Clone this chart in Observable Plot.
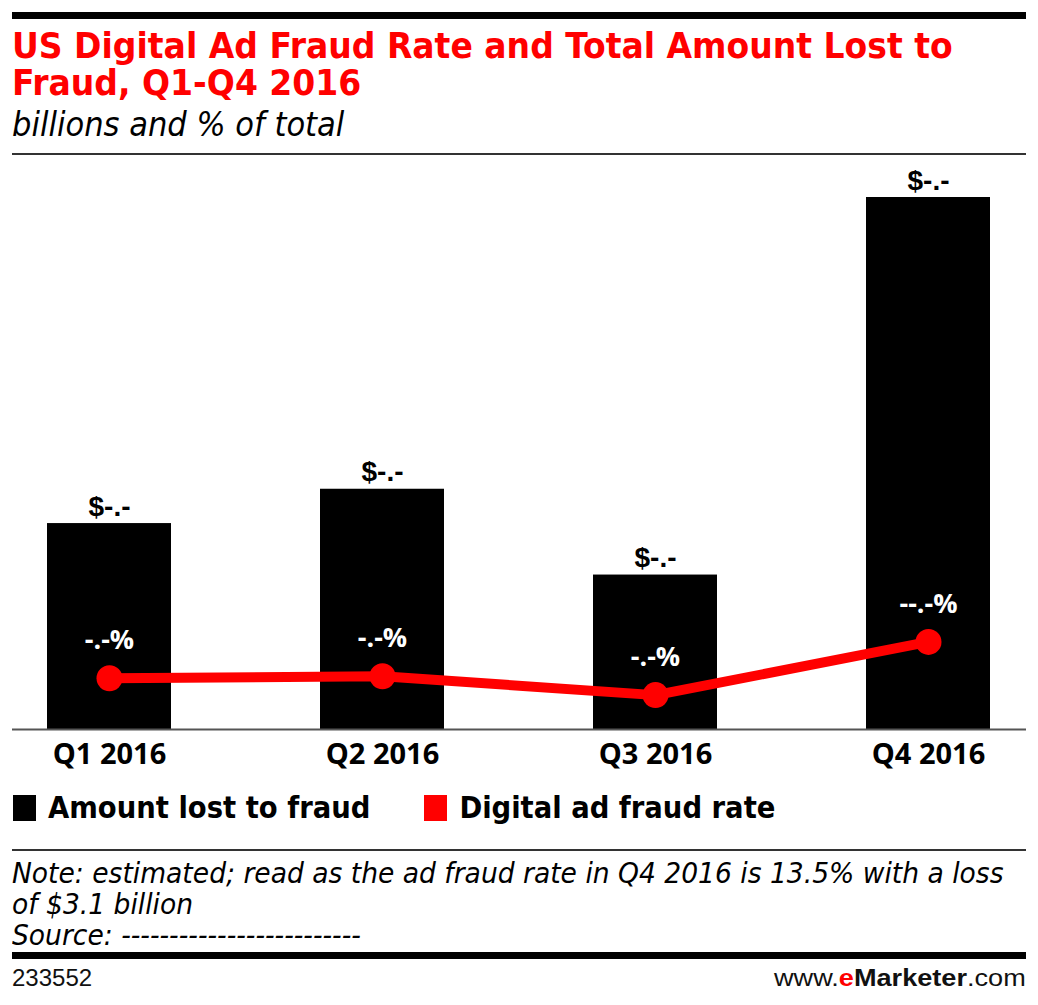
<!DOCTYPE html>
<html>
<head>
<meta charset="utf-8">
<script src="https://cdn.jsdelivr.net/npm/d3@7"></script>
<script src="https://cdn.jsdelivr.net/npm/@observablehq/plot@0.6"></script>
<style>
  html, body { margin: 0; padding: 0; background: #fff; }
  body { position: relative; width: 1038px; height: 1005px; overflow: hidden; }
  .abs { position: absolute; white-space: nowrap; }
  .cond { font-family: "DejaVu Sans Condensed", "Liberation Sans Narrow", sans-serif; font-stretch: condensed; }
  .helv { font-family: "Liberation Sans", Arial, sans-serif; }
  #topbar { left: 12px; top: 12px; width: 1014px; height: 7px; background: #000; }
  .tline { left: 12px; font-size: 36px; line-height: 36px; font-weight: bold; color: #ff0000; transform: scaleX(1.02); transform-origin: 0 0; }
  #title1 { top: 28px; }
  #title2 { top: 65px; }
  #subtitle { left: 12px; top: 104px; font-size: 34px; font-style: italic; color: #000; }
  #rule1 { left: 12px; top: 153px; width: 1014px; height: 2px; background: #333; }
  #chart { left: 0; top: 160px; }
  #legend { left: 13px; top: 790px; font-size: 30.5px; font-weight: bold; color: #000; }
  .sw { display: inline-block; width: 23px; height: 26px; vertical-align: -3px; margin-right: 12px; }
  .item { display: inline-block; }
  #rule2 { left: 12px; top: 849px; width: 1014px; height: 2px; background: #333; }
  #note { left: 12px; top: 858px; font-size: 29px; line-height: 31px; font-style: italic; color: #000; transform: scaleX(1.018); transform-origin: 0 0; }
  #rule3 { left: 12px; top: 952px; width: 1014px; height: 7px; background: #000; }
  #id { left: 12px; top: 964px; font-size: 24px; color: #111; }
  #brand { right: 12px; top: 964px; font-size: 24px; color: #111; transform: scaleX(1.13); transform-origin: 100% 0; }
</style>
</head>
<body>
<div id="topbar" class="abs"></div>
<div id="title1" class="abs cond tline">US Digital Ad Fraud Rate and Total Amount Lost to</div>
<div id="title2" class="abs cond tline">Fraud, Q1-Q4 2016</div>
<div id="subtitle" class="abs cond">billions and % of total</div>
<div id="rule1" class="abs"></div>
<div id="chart" class="abs"></div>
<div id="legend" class="abs cond">
  <span class="item"><span class="sw" style="background:#000"></span>Amount lost to fraud</span><span class="item" style="margin-left:54px"><span class="sw" style="background:#ff0000"></span>Digital ad fraud rate</span>
</div>
<div id="rule2" class="abs"></div>
<div id="note" class="abs cond">Note: estimated; read as the ad fraud rate in Q4 2016 is 13.5% with a loss<br>of $3.1 billion<br>Source: -------------------------</div>
<div id="rule3" class="abs"></div>
<div id="id" class="abs helv">233552</div>
<div id="brand" class="abs helv">www.<b style="color:#ff0000">e</b><b>Marketer</b>.com</div>
<script>
// Data
const quarters = ["Q1 2016", "Q2 2016", "Q3 2016", "Q4 2016"];
const amountLost = [1.2, 1.4, 0.9, 3.1];          // billions of $
const fraudRate = [7.9, 8.2, 5.3, 13.5];           // % of total
const amountLabels = ["$-.-", "$-.-", "$-.-", "$-.-"];
const rateLabels = ["-.-%", "-.-%", "-.-%", "--.-%"];

// secondary scale: rate (%) expressed in billions-axis units
const rateToAxis = 0.0378;

const data = quarters.map((q, i) => ({
  quarter: q,
  amount: amountLost[i],
  rate: fraudRate[i],
  amountLabel: amountLabels[i],
  rateLabel: rateLabels[i]
}));

const boldFont = "'Open Sans', 'DejaVu Sans', sans-serif";
const helvFont = "'Liberation Sans', Arial, sans-serif";

const chart = Plot.plot({
  width: 1038,
  height: 630,
  marginLeft: 12,
  marginRight: 12,
  marginTop: 37,
  marginBottom: 61,
  style: { fontFamily: boldFont, background: "transparent", overflow: "visible" },
  x: { type: "band", domain: quarters, paddingInner: 0.544, paddingOuter: 0.124, label: null },
  y: { domain: [0, 3.1], axis: null },
  marks: [
    Plot.barY(data, { x: "quarter", y: "amount", fill: "#000" }),
    Plot.ruleY([0], { stroke: "#555", strokeWidth: 2 }),
    Plot.text(data, { x: "quarter", y: "amount", text: "amountLabel", lineAnchor: "bottom", dy: -8, fontSize: 28, fontWeight: "bold", fontFamily: helvFont, fill: "#000" }),
    Plot.line(data, { x: "quarter", y: d => d.rate * rateToAxis, stroke: "#ff0000", strokeWidth: 10 }),
    Plot.dot(data, { x: "quarter", y: d => d.rate * rateToAxis, r: 13, fill: "#ff0000", stroke: "none" }),
    Plot.text(data, { x: "quarter", y: d => d.rate * rateToAxis, text: "rateLabel", dy: -38, fontSize: 27, fontWeight: "bold", fill: "#fff" }),
    Plot.axisX({ tickSize: 0, tickPadding: 14, fontSize: 29, fontWeight: "bold", fill: "#000", label: null })
  ]
});
document.getElementById("chart").appendChild(chart);
</script>
</body>
</html>
